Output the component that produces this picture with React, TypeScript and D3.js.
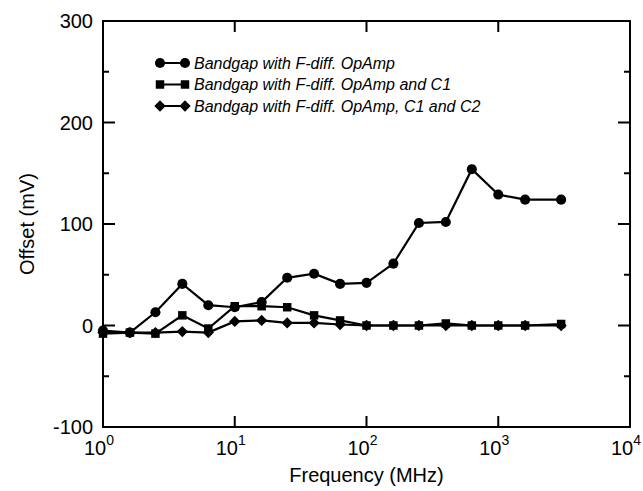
import React, { useEffect, useRef } from 'react';
import * as d3 from 'd3';

const freqs = [1, 1.6, 2.5, 4, 6.3, 10, 16, 25, 40, 63, 100, 160, 250, 400, 630, 1000, 1600, 3000];
const opampOnly = [-5, -7, 13, 41, 20, 18, 23, 47, 51, 41, 42, 61, 101, 102, 154, 129, 124, 124];
const opampC1 = [-8, -7, -8, 10, -3, 19, 19, 18, 10, 5, 0, 0, 0, 2, 0, 0, 0, 1.5];
const opampC1C2 = [-7, -7, -7, -6, -7, 4, 5, 2.5, 2.5, 1, 0, 0, 0, 0, 0, 0, 0, 0];
const seriesNames = [
  'Bandgap with F-diff. OpAmp',
  'Bandgap with F-diff. OpAmp and C1',
  'Bandgap with F-diff. OpAmp, C1 and C2',
];
const yTicks = [-100, 0, 100, 200, 300];
const xTicks = [1, 10, 100, 1000, 10000];

// square diamond (rotated square), same width and height
const diamond = {
  draw(ctx: any, size: number) {
    const r = Math.sqrt(size / 2);
    ctx.moveTo(0, -r);
    ctx.lineTo(r, 0);
    ctx.lineTo(0, r);
    ctx.lineTo(-r, 0);
    ctx.closePath();
  },
};

export default function App() {
  const ref = useRef<SVGSVGElement>(null);

  useEffect(() => {
    const width = 643, height = 491;
    const margin = { left: 103, right: 13, top: 21, bottom: 64 };
    const svg = d3.select(ref.current);
    svg.selectAll('*').remove();

    const x = d3.scaleLog().domain([1, 10000]).range([margin.left, width - margin.right]);
    const y = d3.scaleLinear().domain([-100, 300]).range([height - margin.bottom, margin.top]);
    const font = 'Liberation Sans, Arial, sans-serif';

    // frame
    svg.append('rect')
      .attr('x', x(1)).attr('y', y(300))
      .attr('width', x(10000) - x(1)).attr('height', y(-100) - y(300))
      .attr('fill', 'none').attr('stroke', '#000').attr('stroke-width', 2);

    // y ticks, both sides, inward
    const minor = d3.range(-100, 301, 50);
    minor.forEach(v => {
      const len = v % 100 === 0 ? 12 : 6;
      svg.append('line').attr('x1', x(1)).attr('x2', x(1) + len)
        .attr('y1', y(v)).attr('y2', y(v)).attr('stroke', '#000').attr('stroke-width', 2);
      svg.append('line').attr('x1', x(10000)).attr('x2', x(10000) - len)
        .attr('y1', y(v)).attr('y2', y(v)).attr('stroke', '#000').attr('stroke-width', 2);
    });
    yTicks.forEach(v => {
      svg.append('text').attr('x', x(1) - 10).attr('y', y(v) + 7)
        .attr('text-anchor', 'end').attr('font-family', font).attr('font-size', 20)
        .text(v);
    });

    // x ticks, bottom and top
    xTicks.slice(1, -1).forEach(v => {
      svg.append('line').attr('x1', x(v)).attr('x2', x(v))
        .attr('y1', y(-100)).attr('y2', y(-100) - 11).attr('stroke', '#000').attr('stroke-width', 2);
      svg.append('line').attr('x1', x(v)).attr('x2', x(v))
        .attr('y1', y(300)).attr('y2', y(300) + 11).attr('stroke', '#000').attr('stroke-width', 2);
    });
    xTicks.forEach((v, i) => {
      const t = svg.append('text').attr('x', x(v) - 4).attr('y', y(-100) + 28)
        .attr('text-anchor', 'middle').attr('font-family', font).attr('font-size', 20);
      t.append('tspan').text('10');
      t.append('tspan').attr('dy', -10).attr('font-size', 14).text(String(i));
    });

    svg.append('text').attr('x', (x(1) + x(10000)) / 2).attr('y', 482)
      .attr('text-anchor', 'middle').attr('font-family', font).attr('font-size', 20)
      .text('Frequency (MHz)');
    svg.append('text').attr('transform', `translate(34, ${(y(-100) + y(300)) / 2}) rotate(-90)`)
      .attr('text-anchor', 'middle').attr('font-family', font).attr('font-size', 20)
      .text('Offset (mV)');

    const symbols: any[] = [d3.symbolCircle, d3.symbolSquare, diamond];
    const sizes = [80, 72, 64];
    const data = [opampOnly, opampC1, opampC1C2];
    const line = d3.line<number>().x((_, i) => x(freqs[i])).y(d => y(d));

    data.forEach((vals, s) => {
      svg.append('path').datum(vals).attr('d', line)
        .attr('fill', 'none').attr('stroke', '#000').attr('stroke-width', 2.2);
      svg.append('g').selectAll('path').data(vals).join('path')
        .attr('transform', (d, i) => `translate(${x(freqs[i])},${y(d)})`)
        .attr('d', d3.symbol(symbols[s], sizes[s])())
        .attr('fill', '#000');
    });

    // legend
    seriesNames.forEach((name, s) => {
      const ly = 63 + s * 21.5;
      svg.append('line').attr('x1', 160).attr('x2', 185).attr('y1', ly).attr('y2', ly)
        .attr('stroke', '#000').attr('stroke-width', 2);
      [160, 185].forEach(lx => {
        svg.append('path').attr('transform', `translate(${lx},${ly})`)
          .attr('d', d3.symbol(symbols[s], sizes[s])()).attr('fill', '#000');
      });
      svg.append('text').attr('x', 194).attr('y', ly + 5.5)
        .attr('font-family', font).attr('font-size', 16).attr('font-style', 'italic')
        .text(name);
    });
  }, []);

  return (
    <svg ref={ref} width={643} height={491}
      style={{ position: 'absolute', left: 0, top: 0, background: '#fff' }} />
  );
}
